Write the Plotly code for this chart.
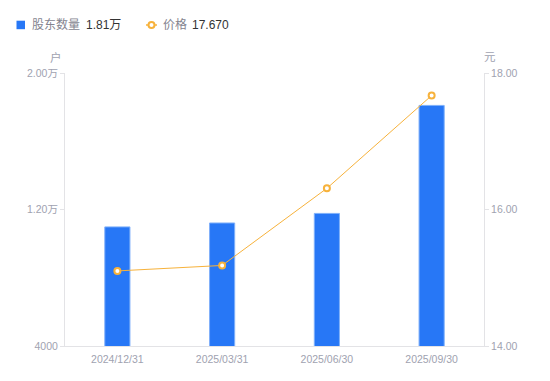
import plotly.graph_objects as go

categories = ["2024/12/31", "2025/03/31", "2025/06/30", "2025/09/30"]
holders = [10980, 11210, 11770, 18100]
price = [15.10, 15.18, 16.31, 17.67]
left_ticks = [4000, 12000, 20000]
left_labels = ["4000", "1.20万", "2.00万"]
right_ticks = [14, 16, 18]
right_labels = ["14.00", "16.00", "18.00"]
legend_names = ["股东数量", "价格"]
legend_values = ["1.81万", "17.670"]

FONT = "Liberation Sans, Noto Sans CJK SC, sans-serif"
BLUE = "#2777F6"
ORANGE = "#F7B23B"
GRAY = "#a0a2b0"
AXIS = "#e3e3e6"

W, H = 550, 381
L, R, T, B = 65, 66, 73, 35
PW, PH = W - L - R, H - T - B


def px(x):
    return (x - L) / PW


def py(y):
    return (H - B - y) / PH


fig = go.Figure()
fig.add_trace(go.Bar(
    x=categories, y=holders, name=legend_names[0],
    marker=dict(color=BLUE, line=dict(color="#7fb0fa", width=1)),
    width=0.24, yaxis="y", hoverinfo="skip",
))
fig.add_trace(go.Scatter(
    x=categories, y=price, name=legend_names[1],
    mode="lines+markers", yaxis="y2", hoverinfo="skip",
    line=dict(color=ORANGE, width=1),
    marker=dict(size=6, color="white", line=dict(color=ORANGE, width=2)),
))

fig.update_layout(
    width=W, height=H,
    margin=dict(l=L, r=R, t=T, b=B, autoexpand=False),
    paper_bgcolor="white", plot_bgcolor="white",
    font=dict(family=FONT, size=11, color=GRAY),
    showlegend=False,
    xaxis=dict(showgrid=False, showline=True, linecolor=AXIS, ticks="",
               ticklabelstandoff=3,
               automargin=False, tickfont=dict(size=10.5, color=GRAY)),
    yaxis=dict(range=[4000, 20000], tickvals=left_ticks, ticktext=left_labels,
               showgrid=False, showline=True, linecolor=AXIS, ticks="outside",
               tickcolor=AXIS, ticklen=4, zeroline=False, automargin=False,
               tickfont=dict(size=10.5, color=GRAY)),
    yaxis2=dict(range=[14, 18], tickvals=right_ticks, ticktext=right_labels,
                overlaying="y", side="right",
                showgrid=False, showline=True, linecolor=AXIS, ticks="outside",
                tickcolor=AXIS, ticklen=4, zeroline=False, automargin=False,
                tickfont=dict(size=10.5, color=GRAY)),
    bargap=0.76,
)

# axis unit labels
fig.add_annotation(text="户", xref="paper", yref="paper", x=px(55.5), y=py(57),
                   xanchor="center", yanchor="middle",
                   showarrow=False, font=dict(size=11.5, color=GRAY))
fig.add_annotation(text="元", xref="paper", yref="paper", x=px(490), y=py(57),
                   xanchor="center", yanchor="middle",
                   showarrow=False, font=dict(size=11.5, color=GRAY))

# manual legend
LY = 25
fig.add_shape(type="rect", xref="paper", yref="paper",
              x0=px(16.5), x1=px(25), y0=py(20.7), y1=py(29.2),
              fillcolor=BLUE, line=dict(width=0))
fig.add_annotation(text=legend_names[0], xref="paper", yref="paper",
                   x=px(30), y=py(LY), xanchor="left", yanchor="middle",
                   showarrow=False, font=dict(size=12, color="#84848f"))
fig.add_annotation(text=legend_values[0], xref="paper", yref="paper",
                   x=px(84), y=py(LY), xanchor="left", yanchor="middle",
                   showarrow=False, font=dict(size=12, color="#333333"))
fig.add_shape(type="line", xref="paper", yref="paper",
              x0=px(146), x1=px(157), y0=py(LY), y1=py(LY),
              line=dict(color=ORANGE, width=1.5))
fig.add_shape(type="circle", xref="paper", yref="paper",
              x0=px(148.5), x1=px(154.5), y0=py(LY - 3), y1=py(LY + 3),
              fillcolor="white", line=dict(color=ORANGE, width=2))
fig.add_annotation(text=legend_names[1], xref="paper", yref="paper",
                   x=px(161), y=py(LY), xanchor="left", yanchor="middle",
                   showarrow=False, font=dict(size=12, color="#84848f"))
fig.add_annotation(text=legend_values[1], xref="paper", yref="paper",
                   x=px(190), y=py(LY), xanchor="left", yanchor="middle",
                   showarrow=False, font=dict(size=12, color="#333333"))

fig.write_html("out.html", config={"displayModeBar": False, "staticPlot": True},
               post_script="document.body.style.margin='0';")
